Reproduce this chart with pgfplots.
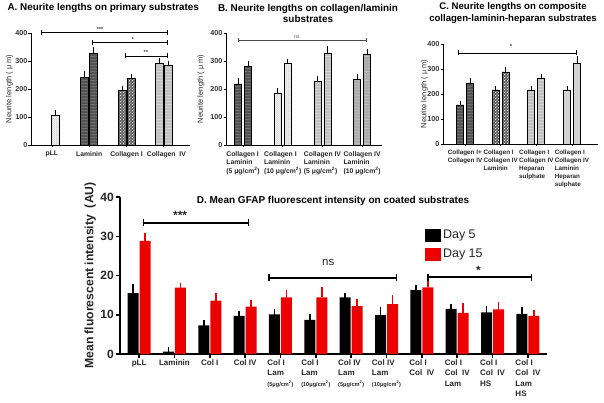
\documentclass[border=0pt]{standalone}
\usepackage{pgfplots}
\pgfplotsset{compat=1.18}
\usepackage{fontspec}
\setmainfont{Liberation Sans}
\usetikzlibrary{patterns,arrows.meta}
\definecolor{dred}{RGB}{236,0,0}

\pgfdeclarepatterninherentlycolored{hdark}{\pgfpointorigin}{\pgfqpoint{4pt}{2.6pt}}{\pgfqpoint{4pt}{2.6pt}}{%
  \pgfsetfillcolor{black!72}\pgfpathrectangle{\pgfpointorigin}{\pgfqpoint{4pt}{2.6pt}}\pgfusepath{fill}%
  \pgfsetstrokecolor{gray!55}\pgfsetlinewidth{0.7pt}%
  \pgfpathmoveto{\pgfqpoint{0pt}{1.3pt}}\pgfpathlineto{\pgfqpoint{4pt}{1.3pt}}\pgfusepath{stroke}}
\pgfdeclarepatterninherentlycolored{hmid}{\pgfpointorigin}{\pgfqpoint{4pt}{2.6pt}}{\pgfqpoint{4pt}{2.6pt}}{%
  \pgfsetfillcolor{gray!55}\pgfpathrectangle{\pgfpointorigin}{\pgfqpoint{4pt}{2.6pt}}\pgfusepath{fill}%
  \pgfsetstrokecolor{white}\pgfsetlinewidth{0.7pt}%
  \pgfpathmoveto{\pgfqpoint{0pt}{1.3pt}}\pgfpathlineto{\pgfqpoint{4pt}{1.3pt}}\pgfusepath{stroke}}
\pgfdeclarepatterninherentlycolored{hmiddark}{\pgfpointorigin}{\pgfqpoint{4pt}{2.6pt}}{\pgfqpoint{4pt}{2.6pt}}{%
  \pgfsetfillcolor{gray!70}\pgfpathrectangle{\pgfpointorigin}{\pgfqpoint{4pt}{2.6pt}}\pgfusepath{fill}%
  \pgfsetstrokecolor{gray!30}\pgfsetlinewidth{0.6pt}%
  \pgfpathmoveto{\pgfqpoint{0pt}{1.3pt}}\pgfpathlineto{\pgfqpoint{4pt}{1.3pt}}\pgfusepath{stroke}}
\pgfdeclarepatterninherentlycolored{crossd}{\pgfpointorigin}{\pgfqpoint{3pt}{3pt}}{\pgfqpoint{3pt}{3pt}}{%
  \pgfsetfillcolor{black!65}\pgfpathrectangle{\pgfpointorigin}{\pgfqpoint{3pt}{3pt}}\pgfusepath{fill}%
  \pgfsetfillcolor{gray!15}%
  \pgfpathrectangle{\pgfqpoint{0.2pt}{0.2pt}}{\pgfqpoint{1.1pt}{1.1pt}}%
  \pgfpathrectangle{\pgfqpoint{1.7pt}{1.7pt}}{\pgfqpoint{1.1pt}{1.1pt}}\pgfusepath{fill}}
\pgfdeclarepatterninherentlycolored{dotl}{\pgfpointorigin}{\pgfqpoint{2pt}{2pt}}{\pgfqpoint{2pt}{2pt}}{%
  \pgfsetfillcolor{gray!12}\pgfpathrectangle{\pgfpointorigin}{\pgfqpoint{2pt}{2pt}}\pgfusepath{fill}%
  \pgfsetfillcolor{gray!55}%
  \pgfpathrectangle{\pgfqpoint{0.3pt}{0.3pt}}{\pgfqpoint{0.6pt}{0.6pt}}\pgfusepath{fill}}

\pgfplotsset{
  smallpanel/.style={
    scale only axis,
    axis x line*=bottom, axis y line*=left,
    axis line style={line width=0.9pt,-},
    tick align=outside, major tick length=2.5pt,
    tick style={line width=0.8pt,black},
    ymin=0, ymax=400, ytick={0,100,200,300,400},
    clip=false,
    /pgf/number format/assume math mode=true,
    yticklabel style={font=\fontsize{7.2}{8}\selectfont\bfseries, text=black!80, inner sep=1pt},
    xticklabel style={font=\fontsize{6.8}{8.8}\selectfont\bfseries, text=black!85, align=left, inner sep=1pt, yshift=-2.5pt},
    ylabel={Neurite length ( μ m)},
    ylabel style={font=\fontsize{7.5}{8}\selectfont, text=black!85, anchor=center},
  },
  nb/.style={ybar, bar width=#1, bar shift=0pt, draw=black, line width=0.8pt,
    error bars/y dir=plus, error bars/y explicit,
    error bars/error bar style={line width=0.9pt, black, solid},
    error bars/error mark options={black, mark size=2.5pt, line width=0.9pt}},
  db/.style={ybar, bar width=11pt, bar shift=0pt, draw=none, fill=#1,
    error bars/y dir=plus, error bars/y explicit,
    error bars/error bar style={line width=1.5pt, #1},
    error bars/error mark options={#1, mark size=4pt, line width=1.5pt}},
}
\tikzset{
  pLight/.style={fill=gray!20, postaction={pattern=dotl}},
  pDark/.style={fill=black!65, postaction={pattern=hdark}},
  pCross/.style={fill=black!55, postaction={pattern=crossd}},
  pMid/.style={fill=gray!45, postaction={pattern=hmid}},
  pMidDark/.style={fill=gray!60, postaction={pattern=hmiddark}},
  pPlain/.style={fill=gray!35},
  sig/.style={line width=0.9pt, {Bar[width=5pt]}-{Bar[width=5pt]}},
}

\begin{document}
\begin{tikzpicture}
\useasboundingbox (0,0) rectangle (604pt,402pt);

% ---------------- Panel A ----------------
\begin{axis}[smallpanel,
  at={(31pt,257pt)}, anchor=south west, width=159pt, height=112pt,
  xmin=-0.56, xmax=3.70, xtick={0,1,2,3},
  xticklabels={pLL, Laminin, Collagen I, \hspace*{5pt}Collagen\ \ IV},
  ylabel style={at={(axis description cs:-0.135,0.5)}},
]
\addplot[nb=8pt, pLight] coordinates {(0.1,107) +- (0,8)};
\addplot[nb=8pt, pDark] coordinates {(0.88,240) +- (0,14) (1.12,328) +- (0,12)};
\addplot[nb=8pt, pCross] coordinates {(1.88,195) +- (0,8) (2.12,237) +- (0,9)};
\addplot[nb=8pt, pMid] coordinates {(2.88,290) +- (0,12) (3.12,283) +- (0,8)};
\draw[sig] (axis cs:-0.29,402) -- (axis cs:3.11,402);
\node[font=\fontsize{6}{6}\selectfont\bfseries, text=black!70] at (axis cs:1.29,412) {***};
\draw[sig] (axis cs:1.07,365) -- (axis cs:3.11,365);
\node[font=\fontsize{6}{6}\selectfont\bfseries, text=black!70] at (axis cs:2.17,377) {*};
\draw[sig] (axis cs:1.96,318) -- (axis cs:3.11,318);
\node[font=\fontsize{6}{6}\selectfont\bfseries, text=black!70] at (axis cs:2.52,330) {**};
\end{axis}

% ---------------- Panel B ----------------
\begin{axis}[smallpanel,
  at={(226pt,257pt)}, anchor=south west, width=156pt, height=112pt,
  xmin=-0.43, xmax=3.5, xtick={0,1,2,3},
  xticklabels={{Collagen I\\Laminin\\(5 μg/cm\textsuperscript{2})},
               {Collagen I\\Laminin\\(10 μg/cm\textsuperscript{2})},
               {Collagen IV\\Laminin\\(5 μg/cm\textsuperscript{2})},
               {Collagen IV\\Laminin\\(10 μg/cm\textsuperscript{2})}},
  ylabel style={at={(axis description cs:-0.16,0.5)}},
]
\addplot[nb=7pt, pDark] coordinates {(-0.126,218) +- (0,11) (0.126,279) +- (0,13)};
\addplot[nb=7pt, pLight] coordinates {(0.874,186) +- (0,10) (1.126,293) +- (0,6)};
\addplot[nb=7pt, pMid] coordinates {(1.874,228) +- (0,10) (2.126,328) +- (0,15)};
\addplot[nb=7pt, pMidDark] coordinates {(2.874,235) +- (0,10) (3.126,325) +- (0,8)};
\draw[line width=0.5pt, black!70, {Bar[width=4pt]}-{Bar[width=4pt]}] (axis cs:-0.13,375) -- (axis cs:3.1,375);
\node[font=\fontsize{5}{5}\selectfont, text=black!70] at (axis cs:1.36,385) {ns};
\end{axis}

% ---------------- Panel C ----------------
\begin{axis}[smallpanel,
  at={(443pt,258pt)}, anchor=south west, width=155pt, height=100pt,
  xmin=-0.62, xmax=3.73, xtick={0,1,2,3},
  xticklabel style={font=\fontsize{6.3}{8}\selectfont\bfseries},
  xticklabels={{Collagen I+\\Collagen IV},
               {Collagen I\\Collagen IV\\Laminin},
               {Collagen I\\Collagen IV\\Heparan\\sulphate},
               {Collagen I\\Collagen IV\\Laminin\\Heparan\\sulphate}},
  ylabel style={at={(axis description cs:-0.12,0.5)}},
]
\addplot[nb=7pt, pDark] coordinates {(-0.14,156) +- (0,5) (0.14,244) +- (0,8)};
\addplot[nb=7pt, pCross] coordinates {(0.86,216) +- (0,5) (1.14,288) +- (0,8)};
\addplot[nb=7pt, pMid] coordinates {(1.86,216) +- (0,5) (2.14,264) +- (0,5)};
\addplot[nb=7pt, pPlain] coordinates {(2.86,216) +- (0,5) (3.14,324) +- (0,18)};
\draw[sig] (axis cs:-0.2,364) -- (axis cs:3.14,364);
\node[font=\fontsize{6}{6}\selectfont\bfseries, text=black!70] at (axis cs:1.29,392) {*};
\end{axis}

% ---------------- Panel D ----------------
\begin{axis}[
  scale only axis,
  at={(120pt,48pt)}, anchor=south west, width=427pt, height=157pt,
  axis x line*=bottom, axis y line*=left,
  axis line style={line width=1.5pt,-},
  tick align=outside, major tick length=4pt,
  tick style={line width=1.5pt,black},
  ymin=0, ymax=40, ytick={0,10,20,30,40},
  xmin=-0.54, xmax=11.54, xtick={0,...,11},
  clip=false,
  /pgf/number format/assume math mode=true,
  yticklabel style={font=\fontsize{12}{12}\selectfont\bfseries, text=black!85, inner sep=2pt},
  xticklabel style={font=\fontsize{8}{10.4}\selectfont\bfseries, text=black!85, align=left, inner sep=1.5pt},
  xticklabels={pLL, Laminin, Col I, Col IV,
    {Col I\\Lam\\{\fontsize{5.6}{7}\selectfont(5μg/cm\textsuperscript{2})}},
    {Col I\\Lam\\{\fontsize{5.6}{7}\selectfont(10μg/cm\textsuperscript{2})}},
    {Col IV\\Lam\\{\fontsize{5.6}{7}\selectfont(5μg/cm\textsuperscript{2})}},
    {Col IV\\Lam\\{\fontsize{5.6}{7}\selectfont(10μg/cm\textsuperscript{2})}},
    {Col I\\Col\ \ IV},
    {Col I\\Col\ \ IV\\Lam},
    {Col I\\Col\ \ IV\\HS},
    {Col I\\Col\ \ IV\\Lam\\HS}},
  ylabel={Mean fluorescent intensity\ \ (AU)},
  ylabel style={font=\fontsize{12.2}{13}\selectfont\bfseries, text=black!85, at={(axis description cs:-0.07,0.5)}, anchor=center},
  legend style={at={(axis cs:8.07,32.0)}, anchor=north west, draw=none, fill=none, inner sep=0pt,
    font=\fontsize{12.5}{14}\selectfont, text=black!85, row sep=7pt,
    nodes={inner sep=1pt}},
  legend cell align=left,
]
\addlegendimage{legend image code/.code={\fill[black] (0pt,-6pt) rectangle (15pt,6pt);}}
\addlegendentry{\,Day 5}
\addlegendimage{legend image code/.code={\fill[dred] (0pt,-6pt) rectangle (15pt,6pt);}}
\addlegendentry{\,Day 15}
\addplot[db=black, forget plot] coordinates {
 (-0.17,15.5) +- (0,1.2) (0.83,0.6) +- (0,0.15) (1.83,7.3) +- (0,0.25) (2.83,9.7) +- (0,0.3)
 (3.83,10.1) +- (0,0.25) (4.83,8.7) +- (0,0.5) (5.83,14.4) +- (0,0.2) (6.83,9.9) +- (0,1.0)
 (7.83,16.3) +- (0,0.2) (8.83,11.5) +- (0,0.2) (9.83,10.6) +- (0,0.6) (10.83,10.2) +- (0,0.7)};
\addplot[db=dred, forget plot] coordinates {
 (0.17,28.8) +- (0,1.0) (1.17,16.9) +- (0,0.2) (2.17,13.6) +- (0,1.0) (3.17,12.1) +- (0,0.6)
 (4.17,14.4) +- (0,1.0) (5.17,14.4) +- (0,1.6) (6.17,12.2) +- (0,0.9) (7.17,12.7) +- (0,1.2)
 (8.17,17.0) +- (0,1.3) (9.17,10.5) +- (0,1.6) (10.17,11.4) +- (0,0.9) (11.17,9.7) +- (0,0.6)};
\draw[line width=1.5pt, {Bar[width=7pt]}-{Bar[width=7pt]}] (axis cs:0.11,33.4) -- (axis cs:3.11,33.4);
\node[font=\fontsize{12}{12}\selectfont\bfseries, text=black!85] at (axis cs:1.16,35.4) {***};
\draw[line width=1.5pt, {Bar[width=7pt]}-{Bar[width=7pt]}] (axis cs:3.65,19.4) -- (axis cs:7.3,19.4);
\node[font=\fontsize{11.5}{12}\selectfont, text=black!85] at (axis cs:5.35,23.2) {ns};
\draw[line width=1.5pt, {Bar[width=7pt]}-{Bar[width=7pt]}] (axis cs:8.15,19.6) -- (axis cs:11.12,19.6);
\node[font=\fontsize{12}{12}\selectfont\bfseries, text=black!85] at (axis cs:9.6,21.4) {*};
\end{axis}

% ---------------- Titles ----------------
\node[font=\fontsize{9.9}{11}\selectfont\bfseries, anchor=west] at (4pt,394pt) {A. Neurite lengths on primary substrates};
\node[font=\fontsize{9.9}{11.5}\selectfont\bfseries, align=center] at (308pt,388.5pt) {B. Neurite lengths on collagen/laminin\\substrates};
\node[font=\fontsize{9.6}{12}\selectfont\bfseries, align=center] at (513pt,389pt) {C. Neurite lengths on composite\\collagen-laminin-heparan substrates};
\node[font=\fontsize{10}{11}\selectfont\bfseries] at (333pt,201.5pt) {D. Mean GFAP fluorescent intensity on coated substrates};
\end{tikzpicture}
\end{document}
